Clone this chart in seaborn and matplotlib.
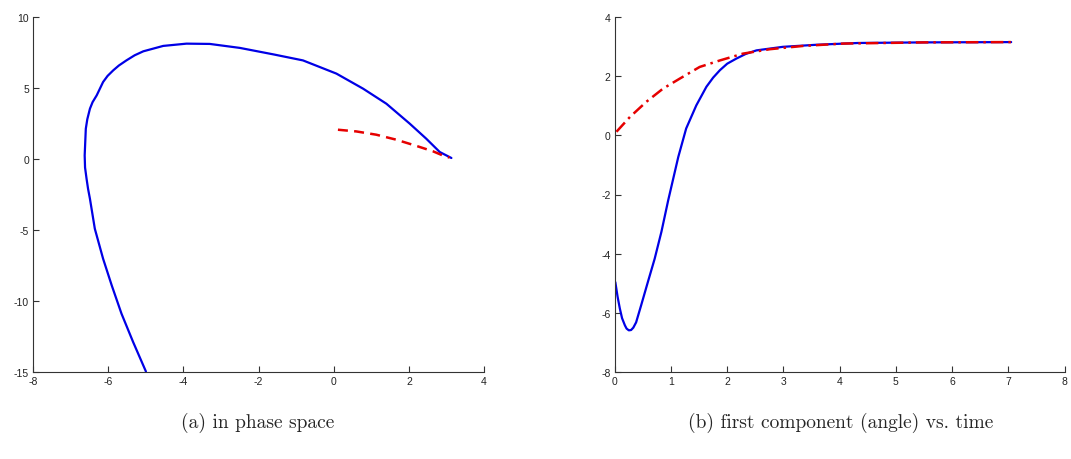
import numpy as np
import pandas as pd
import matplotlib
matplotlib.use("Agg")
import matplotlib.pyplot as plt
import seaborn as sns

# (a) phase space trajectories
phase_blue_x = [3.13, 2.82, 2.46, 2.02, 1.40, 0.78, 0.07, -0.82, -1.60, -2.50, -3.30,
                -3.92, -4.54, -5.07, -5.30, -5.52, -5.72, -5.87, -6.02, -6.14, -6.31,
                -6.42, -6.49, -6.56, -6.60, -6.63, -6.62, -6.58, -6.54, -6.49, -6.36,
                -6.14, -5.91, -5.65, -5.34, -5.00]
phase_blue_y = [0.07, 0.49, 1.43, 2.49, 3.89, 4.95, 6.01, 6.94, 7.36, 7.82, 8.10,
                8.12, 7.96, 7.58, 7.30, 6.94, 6.58, 6.24, 5.85, 5.42, 4.48,
                4.00, 3.54, 2.80, 2.13, 0.25, -0.60, -1.39, -2.10, -2.80, -4.91,
                -7.02, -8.90, -10.89, -12.89, -14.96]
phase_red_x = [0.11, 0.60, 1.13, 1.66, 2.20, 2.64, 2.90, 3.08]
phase_red_y = [2.06, 1.94, 1.71, 1.36, 0.92, 0.54, 0.25, 0.10]

# (b) first component vs time
time_blue = [0.01, 0.05, 0.09, 0.13, 0.18, 0.21, 0.25, 0.29, 0.33, 0.38, 0.47, 0.59,
             0.71, 0.83, 0.95, 1.13, 1.27, 1.45, 1.63, 1.75, 1.87, 2.00, 2.16, 2.33,
             2.52, 2.99, 3.59, 4.33, 5.50, 7.05]
angle_blue = [-4.96, -5.45, -5.85, -6.18, -6.42, -6.53, -6.59, -6.58, -6.50, -6.32,
              -5.74, -4.95, -4.17, -3.26, -2.20, -0.73, 0.23, 1.01, 1.64, 1.95,
              2.20, 2.42, 2.59, 2.75, 2.87, 2.99, 3.06, 3.12, 3.14, 3.15]
time_red = [0.03, 0.27, 0.56, 0.86, 1.16, 1.51, 1.87, 2.28, 2.76, 3.35, 4.06, 5.50, 7.05]
angle_red = [0.12, 0.62, 1.13, 1.58, 1.92, 2.31, 2.53, 2.76, 2.91, 3.02, 3.10, 3.14, 3.15]

sns.set_style("ticks")
plt.rcParams["font.family"] = ["Liberation Sans", "DejaVu Sans"]
plt.rcParams["xtick.direction"] = "in"
plt.rcParams["ytick.direction"] = "in"
plt.rcParams["axes.unicode_minus"] = False

fig = plt.figure(figsize=(10.71, 4.6), dpi=100)
ax1 = fig.add_axes([0.031, 0.189, 0.421, 0.772])
ax2 = fig.add_axes([0.574, 0.189, 0.420, 0.772])

df_pb = pd.DataFrame({"x": phase_blue_x, "y": phase_blue_y})
df_pr = pd.DataFrame({"x": phase_red_x, "y": phase_red_y})
sns.lineplot(data=df_pb, x="x", y="y", sort=False, estimator=None, color="#0000e6",
             linewidth=1.6, ax=ax1)
sns.lineplot(data=df_pr, x="x", y="y", sort=False, estimator=None, color="#e60000",
             linewidth=1.8, linestyle=(0, (4, 2.5)), ax=ax1)
ax1.set_xlim(-8, 4)
ax1.set_ylim(-15, 10)
ax1.set_xticks(range(-8, 5, 2))
ax1.set_yticks(range(-15, 11, 5))

df_tb = pd.DataFrame({"t": time_blue, "a": angle_blue})
df_tr = pd.DataFrame({"t": time_red, "a": angle_red})
sns.lineplot(data=df_tb, x="t", y="a", sort=False, estimator=None, color="#0000e6",
             linewidth=1.6, ax=ax2)
sns.lineplot(data=df_tr, x="t", y="a", sort=False, estimator=None, color="#e60000",
             linewidth=1.8, linestyle=(0, (5, 2, 1, 2)), ax=ax2)
ax2.set_xlim(0, 8)
ax2.set_ylim(-8, 4)
ax2.set_xticks(range(0, 9))
ax2.set_yticks(range(-8, 5, 2))

for ax in (ax1, ax2):
    sns.despine(ax=ax)
    ax.set_xlabel("")
    ax.set_ylabel("")
    ax.tick_params(labelsize=7.5, length=4, width=0.8, color="#333333",
                   labelcolor="#222222", pad=3)
    for s in ("left", "bottom"):
        ax.spines[s].set_color("#333333")
        ax.spines[s].set_linewidth(0.8)

fig.text(0.241, 0.08, "(a) in phase space", ha="center", va="center",
         fontsize=14, family=["cmr10", "DejaVu Serif"])
fig.text(0.785, 0.08, "(b) first component (angle) vs. time", ha="center", va="center",
         fontsize=14, family=["cmr10", "DejaVu Serif"])

fig.savefig("out.png", dpi=100)
